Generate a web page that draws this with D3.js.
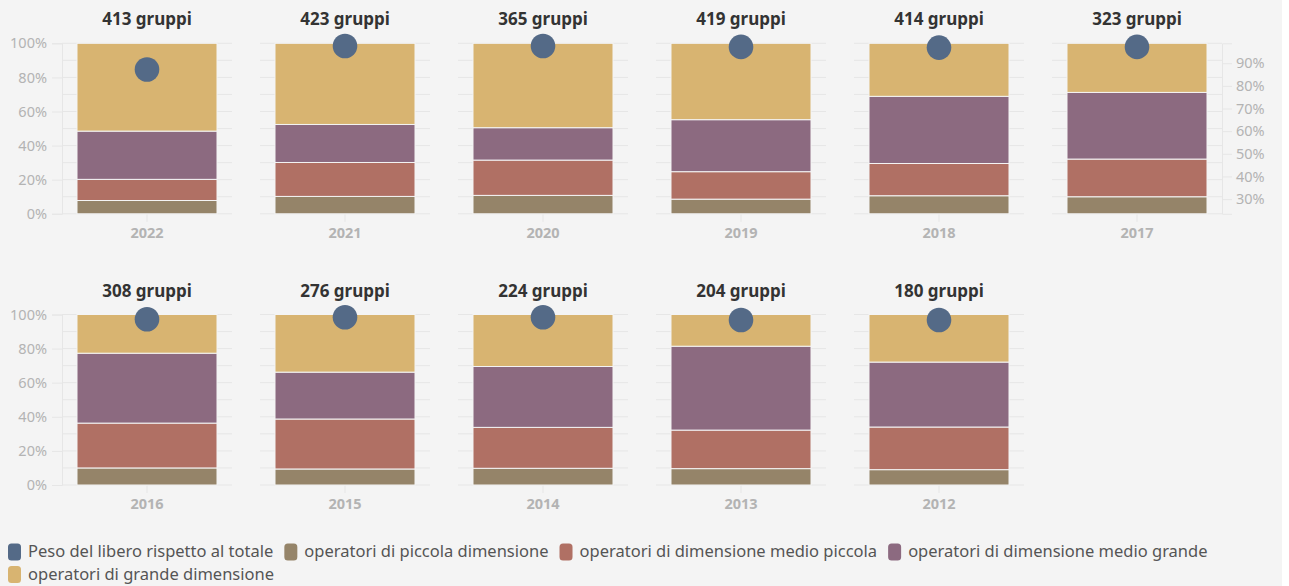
<!DOCTYPE html>
<html>
<head>
<meta charset="utf-8">
<script src="https://cdn.jsdelivr.net/npm/d3@7"></script>
<style>
  html, body { margin: 0; padding: 0; background: #ffffff; }
  svg { display: block; font-family: "Noto Sans", Lato, sans-serif; }
</style>
</head>
<body>
<svg id="chart" width="1289" height="586"></svg>
<script>
// ---- data ----
const years   = ["2022","2021","2020","2019","2018","2017","2016","2015","2014","2013","2012"];
const groups  = [413, 423, 365, 419, 414, 323, 308, 276, 224, 204, 180];
const piccola      = [0.078, 0.102, 0.108, 0.086, 0.106, 0.100, 0.100, 0.094, 0.098, 0.096, 0.090];
const medioPiccola = [0.124, 0.199, 0.207, 0.161, 0.189, 0.221, 0.263, 0.293, 0.240, 0.226, 0.250];
const medioGrande  = [0.283, 0.223, 0.190, 0.305, 0.394, 0.391, 0.410, 0.275, 0.357, 0.492, 0.381];
const grande       = [0.515, 0.476, 0.495, 0.448, 0.311, 0.288, 0.227, 0.338, 0.305, 0.186, 0.279];
const pesoLibero   = [0.872, 0.976, 0.976, 0.972, 0.969, 0.972, 0.967, 0.976, 0.976, 0.964, 0.964];
const leftTicks  = [0, 0.2, 0.4, 0.6, 0.8, 1.0];
const rightTicks = [0.3, 0.4, 0.5, 0.6, 0.7, 0.8, 0.9];
const seriesNames = ["Peso del libero rispetto al totale", "operatori di piccola dimensione",
  "operatori di dimensione medio piccola", "operatori di dimensione medio grande", "operatori di grande dimensione"];
const seriesColors = ["#546a87", "#958469", "#b07064", "#8c6a80", "#d8b471"];

const stackKeys = ["piccola", "medioPiccola", "medioGrande", "grande"];
const rows = years.map((y, i) => ({
  year: y, groups: groups[i], peso: pesoLibero[i],
  piccola: piccola[i], medioPiccola: medioPiccola[i], medioGrande: medioGrande[i], grande: grande[i]
}));
const stacked = d3.stack().keys(stackKeys)(rows);

const svg = d3.select("#chart");
svg.append("rect").attr("x", 0).attr("y", 0).attr("width", 1282).attr("height", 586).attr("fill", "#f4f4f4");

const FONT = "'Noto Sans', Lato, sans-serif";
const nCols = 6;
const colScale = d3.scaleBand().domain(d3.range(nCols)).range([62, 1222]).paddingInner(28 / 198).paddingOuter(0);
const rowTop = [43.3, 314.5];
const plotH = 170.5;
const gridColor = "#e6e6e6";
const tickText = "#b3b3b3";
const pct = d3.format(".0%");

rows.forEach((d, i) => {
  const col = i % nCols, row = Math.floor(i / nCols);
  const x0 = colScale(col), w = colScale.bandwidth();
  const g = svg.append("g").attr("transform", `translate(${x0},${rowTop[row]})`);
  const y = d3.scaleLinear().domain([0, 1]).range([plotH, 0]);
  const y2 = d3.scaleLinear().domain([0.235, 0.988]).range([plotH, 0]);
  const xb = d3.scaleBand().domain([d.year]).range([0, w]).padding(0.0968);

  g.append("g").selectAll("line").data(d3.range(0, 1.0001, 0.1)).join("line")
    .attr("x1", 0).attr("x2", w)
    .attr("y1", v => y(v)).attr("y2", v => y(v))
    .attr("stroke", gridColor).attr("stroke-width", 1);

  if (col === 0) {
    const ax = g.append("g").call(d3.axisLeft(y).tickValues(leftTicks).tickFormat(pct).tickSize(10).tickPadding(5));
    ax.select(".domain").attr("stroke", gridColor);
    ax.selectAll(".tick line").attr("stroke", gridColor);
    ax.selectAll("text").attr("fill", tickText).style("font-size", "14.5px").style("font-family", FONT);
  }
  if (col === nCols - 1) {
    const ax = g.append("g").attr("transform", `translate(${w},0)`)
      .call(d3.axisRight(y2).tickValues(rightTicks).tickFormat(pct).tickSize(10).tickPadding(4));
    ax.select(".domain").attr("stroke", gridColor);
    ax.selectAll(".tick line").attr("stroke", gridColor);
    ax.selectAll("text").attr("fill", tickText).style("font-size", "14.5px").style("font-family", FONT);
  }

  const xa = g.append("g").attr("transform", `translate(0,${plotH})`)
    .call(d3.axisBottom(xb).tickSize(8).tickPadding(6));
  xa.select(".domain").remove();
  xa.selectAll(".tick line").attr("stroke", gridColor);
  xa.selectAll("text").attr("fill", tickText).style("font-size", "14.5px").style("font-weight", "bold")
    .style("font-family", FONT);

  stacked.forEach((s, k) => {
    const seg = s[i];
    g.append("rect")
      .attr("x", xb(d.year)).attr("width", xb.bandwidth())
      .attr("y", y(seg[1])).attr("height", y(seg[0]) - y(seg[1]))
      .attr("fill", seriesColors[k + 1])
      .attr("stroke", "#f4f4f4").attr("stroke-width", 1);
  });

  g.append("circle")
    .attr("cx", xb(d.year) + xb.bandwidth() / 2).attr("cy", y2(d.peso)).attr("r", 12.3)
    .attr("fill", seriesColors[0]);

  g.append("text")
    .attr("x", xb(d.year) + xb.bandwidth() / 2).attr("y", -18)
    .attr("text-anchor", "middle")
    .attr("fill", "#333333").style("font-size", "17px").style("font-weight", "bold")
    .style("font-family", FONT)
    .text(`${d.groups} gruppi`);
});

// legend (flow layout)
const legend = svg.append("g");
let lx = 8, ly = 543.5;
const lineH = 22.5, maxX = 1270;
seriesNames.forEach((name, k) => {
  const item = legend.append("g");
  const t = item.append("text").attr("x", 20).attr("y", 13.5)
    .attr("fill", "#555555").style("font-size", "16.5px").style("font-family", FONT).text(name);
  const tw = t.node().getComputedTextLength();
  const itemW = 20 + tw;
  if (lx + itemW > maxX) { lx = 8; ly += lineH; }
  item.attr("transform", `translate(${lx},${ly})`);
  item.insert("rect", "text").attr("x", 0).attr("y", 0).attr("width", 13).attr("height", 17)
    .attr("rx", 3.5).attr("fill", seriesColors[k]);
  lx += itemW + 11;
});
</script>
</body>
</html>
